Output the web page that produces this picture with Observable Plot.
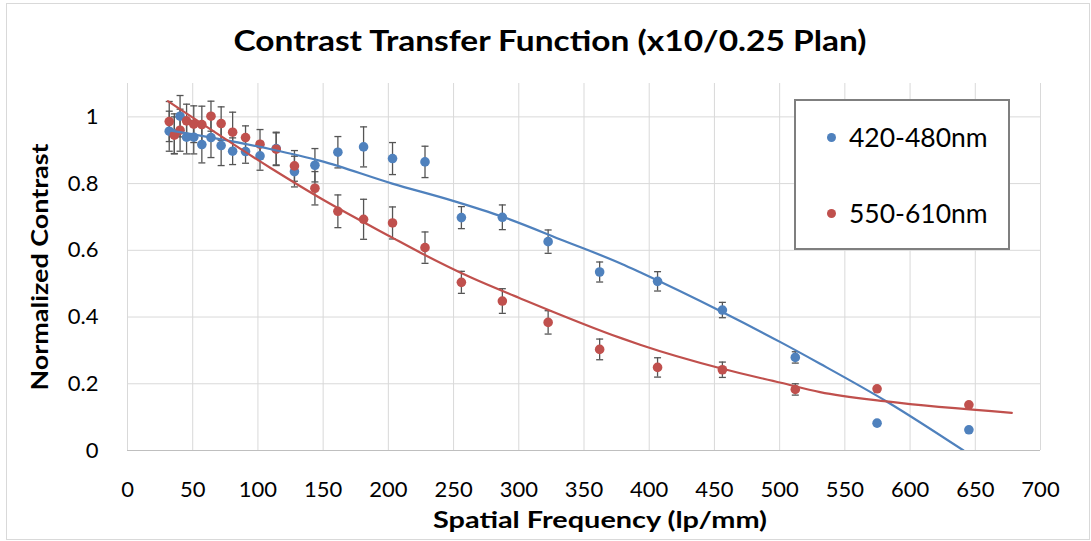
<!DOCTYPE html>
<html><head><meta charset="utf-8">
<script src="https://cdn.jsdelivr.net/npm/d3@7"></script>
<script src="https://cdn.jsdelivr.net/npm/@observablehq/plot@0.6"></script>
<style>
body{margin:0;background:#fff;}
#wrap{position:relative;width:1091px;height:541px;font-family:Lato, sans-serif;overflow:hidden;}
#border{position:absolute;left:6px;top:3px;width:1084px;height:537px;border:1px solid #d9d9d9;box-sizing:border-box;pointer-events:none;}
#legend{position:absolute;left:794px;top:99px;width:216px;height:151px;border:2px solid #7f7f7f;box-sizing:border-box;background:#fff;}
.item{position:absolute;left:0;display:flex;align-items:center;font-size:26.5px;color:#000;line-height:1;}
.dot{width:9px;height:9px;border-radius:50%;margin-left:31px;margin-right:13px;}
</style></head>
<body><div id="wrap"><div id="border"></div></div>
<script>
// USAF target spatial frequencies (lp/mm)
const freq = [32.0, 35.9, 40.3, 45.3, 50.8, 57.0, 64.0, 71.8, 80.6, 90.5, 101.6, 114.0, 128.0, 143.7, 161.3, 181.0, 203.2, 228.1, 256.0, 287.4, 322.5, 362.0, 406.4, 456.1, 512.0, 574.7, 645.1];
const blueValues = [0.957, 0.949, 1.002, 0.939, 0.939, 0.917, 0.938, 0.914, 0.897, 0.896, 0.883, 0.905, 0.836, 0.855, 0.894, 0.910, 0.875, 0.865, 0.698, 0.699, 0.626, 0.535, 0.507, 0.421, 0.279, 0.082, 0.062];
const blueErrors = [0.060, 0.060, 0.062, 0.050, 0.050, 0.055, 0.060, 0.060, 0.040, 0.035, 0.043, 0.049, 0.046, 0.050, 0.047, 0.060, 0.048, 0.047, 0.033, 0.037, 0.035, 0.030, 0.029, 0.023, 0.017, 0, 0];
const redValues = [0.986, 0.945, 0.960, 0.988, 0.978, 0.977, 1.002, 0.980, 0.954, 0.938, 0.918, 0.903, 0.853, 0.786, 0.717, 0.693, 0.682, 0.608, 0.504, 0.448, 0.384, 0.303, 0.249, 0.242, 0.183, 0.185, 0.137];
const redErrors = [0.060, 0.055, 0.063, 0.050, 0.055, 0.055, 0.045, 0.050, 0.060, 0.035, 0.044, 0.049, 0.046, 0.050, 0.049, 0.060, 0.048, 0.047, 0.033, 0.037, 0.035, 0.031, 0.029, 0.023, 0.017, 0, 0];
// Trendlines
const blueTrendX = [31, 110, 148, 203, 249, 288, 335, 379, 393, 456, 501, 531, 582, 641];
const blueTrendY = [0.960, 0.903, 0.868, 0.800, 0.749, 0.700, 0.628, 0.559, 0.534, 0.415, 0.324, 0.260, 0.147, 0.0];
const redTrendX = [31, 110, 148, 203, 225, 263, 300, 379, 393, 456, 501, 531, 582, 678];
const redTrendY = [1.047, 0.846, 0.756, 0.638, 0.592, 0.519, 0.458, 0.336, 0.317, 0.245, 0.203, 0.175, 0.147, 0.113];
const seriesNames = ["420-480nm", "550-610nm"];
const seriesColors = ["#4f81bd", "#c0504d"];
const xTicks = [0, 50, 100, 150, 200, 250, 300, 350, 400, 450, 500, 550, 600, 650, 700];
const yTicks = [0, 0.2, 0.4, 0.6, 0.8, 1];
const titleText = "Contrast Transfer Function (x10/0.25 Plan)";
const xLabel = "Spatial Frequency (lp/mm)";
const yLabel = "Normalized Contrast";

const toRows = (ys, es, s) => freq.map((x, i) => ({x, y: ys[i], e: es[i], s}));
const rows = [...toRows(blueValues, blueErrors, 0), ...toRows(redValues, redErrors, 1)];
const trend = (xs, ys, s) => xs.map((x, i) => ({x, y: ys[i], s}));
const trends = [trend(blueTrendX, blueTrendY, 0), trend(redTrendX, redTrendY, 1)];

const cap = {draw(ctx) { ctx.moveTo(-3.5, 0); ctx.lineTo(3.5, 0); }};
const errColor = "#555555";

const chart = Plot.plot({
  width: 1091, height: 541,
  marginLeft: 127, marginRight: 51, marginTop: 83, marginBottom: 91,
  style: {fontFamily: "Lato, sans-serif", background: "transparent", color: "#000", overflow: "visible"},
  x: {domain: [0, 700]},
  y: {domain: [0, 1.1]},
  marks: [
    Plot.gridX(xTicks, {stroke: "#d9d9d9", strokeOpacity: 1, strokeWidth: 1}),
    Plot.gridY(yTicks.filter(d => d > 0), {stroke: "#d9d9d9", strokeOpacity: 1, strokeWidth: 1}),
    Plot.ruleY([0], {stroke: "#bfbfbf", strokeWidth: 1}),
    Plot.axisX(xTicks, {tickSize: 0, tickPadding: 31, fontSize: 22, label: null}),
    Plot.axisY(yTicks, {tickSize: 0, tickPadding: 29, fontSize: 22, label: null, tickFormat: d => String(d)}),
    Plot.ruleX(rows, {x: "x", y1: d => d.y - d.e, y2: d => d.y + d.e, stroke: errColor, strokeWidth: 1.3}),
    Plot.dot(rows, {x: "x", y: d => d.y + d.e, symbol: cap, stroke: errColor, strokeWidth: 1.3}),
    Plot.dot(rows, {x: "x", y: d => d.y - d.e, symbol: cap, stroke: errColor, strokeWidth: 1.3}),
    Plot.dot(rows, {x: "x", y: "y", r: 4.8, fill: d => seriesColors[d.s], stroke: "none"}),
    ...trends.map(t => Plot.line(t, {x: "x", y: "y", curve: "monotone-x", stroke: seriesColors[t[0].s], strokeWidth: 2.2, clip: true})),
    Plot.text([titleText], {frameAnchor: "top", textAnchor: "middle", lineAnchor: "middle", dx: -34, dy: -41, fontSize: 28, fontWeight: "bold", fill: "#000", className: "t-title"}),
    Plot.text([xLabel], {frameAnchor: "bottom", textAnchor: "middle", lineAnchor: "middle", dx: 16, dy: 70, fontSize: 23, fontWeight: "bold", fill: "#000", className: "t-xlabel"}),
    Plot.text([yLabel], {frameAnchor: "left", textAnchor: "middle", lineAnchor: "middle", dx: -87, rotate: -90, fontSize: 23, fontWeight: "bold", fill: "#000", className: "t-ylabel"})
  ]
});
// Stretch titles horizontally to match the reference's wide lettering
[["t-title", 633], ["t-xlabel", 334], ["t-ylabel", 247]].forEach(([cls, len]) => {
  chart.querySelectorAll("." + cls + " text").forEach(t => {
    t.setAttribute("textLength", len);
    t.setAttribute("lengthAdjust", "spacingAndGlyphs");
  });
});
const wrap = document.getElementById("wrap");
wrap.insertBefore(chart, wrap.firstChild);
chart.style.position = "absolute"; chart.style.left = "0"; chart.style.top = "0";

const legend = document.createElement("div");
legend.id = "legend";
seriesNames.forEach((name, i) => {
  const item = document.createElement("div");
  item.className = "item";
  item.style.top = (i === 0 ? 23 : 99) + "px";
  const dot = document.createElement("span");
  dot.className = "dot"; dot.style.background = seriesColors[i];
  const label = document.createElement("span");
  label.textContent = name;
  item.appendChild(dot); item.appendChild(label);
  legend.appendChild(item);
});
wrap.appendChild(legend);
</script>
</body></html>
